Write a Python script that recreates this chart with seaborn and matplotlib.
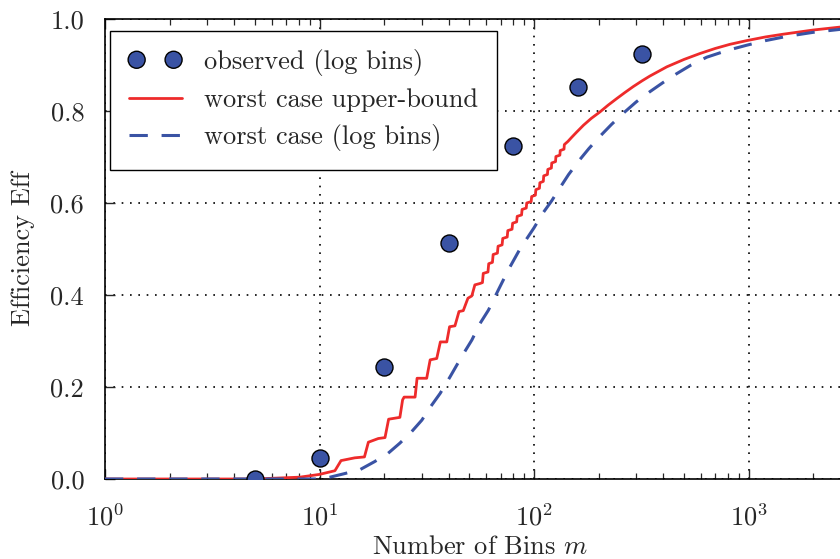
import numpy as np
import pandas as pd
import matplotlib
matplotlib.use("Agg")
import matplotlib.pyplot as plt
import seaborn as sns
from matplotlib.ticker import LogLocator, MultipleLocator, NullFormatter

# observed efficiency (log bins)
obs_m = [5, 10, 20, 40, 80, 160, 320]
obs_eff = [0.0, 0.045, 0.243, 0.512, 0.723, 0.853, 0.925]

# worst case upper-bound (staircase)
ub_m = [1, 5, 8.1, 10, 11.8, 12.6, 14.6, 16.2, 16.9, 18.8, 20.2, 21.0, 23.7, 24.4, 24.8,
        27.9, 28.5, 31.6, 32.8, 35.2, 36.6, 39.2, 40.4, 42.8, 44.7, 46.8, 49.2, 51.3, 53.0,
        56.0, 57.5, 58.0, 61.0, 61.5, 64.0, 64.5, 67.5, 68.0, 71.0, 71.5, 75.0, 75.5, 79.0,
        79.5, 83.0, 83.5, 87.5, 88.0, 92.0, 92.5, 97.0, 97.5, 101.5, 102, 106, 106.5, 110.5,
        111, 115.5, 116, 120.5, 121, 126, 126.5, 132, 132.5, 138, 138.5, 144, 150,
        158, 170, 185, 203, 222, 243, 265, 290, 320, 347, 380, 416, 500, 594, 700, 820,
        981, 1200, 1453, 2000, 3000]
ub_eff = [0.0, 0.0, 0.004, 0.010, 0.018, 0.040, 0.046, 0.048, 0.080, 0.088, 0.090, 0.130,
          0.134, 0.172, 0.178, 0.178, 0.219, 0.219, 0.259, 0.262, 0.298, 0.298, 0.331, 0.333,
          0.364, 0.366, 0.393, 0.398, 0.422, 0.425, 0.427, 0.447, 0.450, 0.468, 0.471, 0.488,
          0.491, 0.506, 0.509, 0.523, 0.526, 0.540, 0.543, 0.556, 0.559, 0.571, 0.574, 0.586,
          0.589, 0.600, 0.603, 0.614, 0.617, 0.629, 0.632, 0.644, 0.647, 0.659, 0.662, 0.673,
          0.676, 0.687, 0.690, 0.701, 0.704, 0.714, 0.717, 0.727, 0.734, 0.743,
          0.754, 0.769, 0.784, 0.798, 0.813, 0.827, 0.840, 0.853, 0.866, 0.876, 0.886, 0.896,
          0.912, 0.925, 0.936, 0.945, 0.953, 0.961, 0.967, 0.976, 0.985]

# worst case (log bins)
wc_m = [1, 10, 11.2, 12.9, 15.4, 18.1, 20.9, 23.7, 26.9, 30.0, 32.7, 36.5, 40.6, 46, 51.3,
        56, 61.3, 68.2, 76, 86, 100, 110, 121, 130, 145, 164, 180, 203, 230, 265, 300, 347,
        400, 462, 540, 639, 800, 981, 1200, 1500, 2000, 3000]
wc_eff = [0.0, 0.0, 0.004, 0.011, 0.020, 0.038, 0.056, 0.078, 0.103, 0.128, 0.155, 0.186,
          0.222, 0.266, 0.302, 0.338, 0.367, 0.411, 0.455, 0.50, 0.546, 0.578, 0.605, 0.628,
          0.662, 0.695, 0.718, 0.745, 0.771, 0.798, 0.820, 0.842, 0.862, 0.881, 0.900, 0.917,
          0.932, 0.943, 0.953, 0.962, 0.971, 0.980]

sns.set_style("ticks")
plt.rcParams.update({
    "font.family": ["cmr10", "DejaVu Serif"],
    "mathtext.fontset": "cm",
    "axes.unicode_minus": False,
    "axes.formatter.use_mathtext": True,
    "font.size": 19,
})

RED = "#ee2b2b"
BLUE = "#3a53a4"
FS = 19

fig = plt.figure(figsize=(8.4, 5.59), dpi=100)
ax = fig.add_axes([0.125, 1 - 479 / 559, 750.75 / 840, 460 / 559])

ub_df = pd.DataFrame({"m": ub_m, "eff": ub_eff})
wc_df = pd.DataFrame({"m": wc_m, "eff": wc_eff})
obs_df = pd.DataFrame({"m": obs_m, "eff": obs_eff})

sns.lineplot(data=ub_df, x="m", y="eff", estimator=None, sort=False, ax=ax,
             color=RED, lw=2.0, label="worst case upper-bound", zorder=3)
sns.lineplot(data=wc_df, x="m", y="eff", estimator=None, sort=False, ax=ax,
             color=BLUE, lw=2.2, linestyle=(0, (6.0, 4.5)), label="worst case (log bins)", zorder=3)
sns.scatterplot(data=obs_df, x="m", y="eff", ax=ax, s=150, color=BLUE,
                edgecolor="black", linewidth=1.0, label="observed (log bins)", zorder=4)

ax.set_xscale("log")
ax.set_xlim(1, 10 ** 3.5)
ax.set_ylim(0, 1.0)
ax.xaxis.set_major_locator(LogLocator(base=10, numticks=10))
ax.xaxis.set_minor_locator(LogLocator(base=10, subs=np.arange(2, 10), numticks=20))
ax.xaxis.set_minor_formatter(NullFormatter())
ax.set_yticks([0.0, 0.2, 0.4, 0.6, 0.8, 1.0])
ax.set_yticklabels(["0.0", "0.2", "0.4", "0.6", "0.8", "1.0"])

ax.grid(True, which="major", color="black", linestyle=(0, (1, 4)), linewidth=1.2)
ax.tick_params(which="both", direction="in", top=True, right=True, labelsize=FS)
ax.tick_params(axis="y", pad=15)
ax.tick_params(axis="x", pad=18)
ax.tick_params(which="major", length=7, width=1.0)
ax.tick_params(which="minor", length=4, width=0.9)
for s in ax.spines.values():
    s.set_linewidth(1.2)
    s.set_color("black")

ax.set_xlabel("Number of Bins $m$", fontsize=FS, labelpad=3)
ax.set_ylabel("Efficiency Eff", fontsize=FS, labelpad=11)

handles, labels = ax.get_legend_handles_labels()
order = [labels.index("observed (log bins)"), labels.index("worst case upper-bound"),
         labels.index("worst case (log bins)")]
leg = ax.legend([handles[i] for i in order], [labels[i] for i in order],
                loc="upper left", bbox_to_anchor=(0.007, 0.974), scatterpoints=2,
                scatteryoffsets=[0.5], fancybox=False, framealpha=1.0, edgecolor="black",
                fontsize=FS, handlelength=2.0, handletextpad=0.85, borderpad=0.7,
                labelspacing=0.45, borderaxespad=0.0, handleheight=0.75)
leg.get_frame().set_linewidth(1.0)

fig.savefig("out.png", dpi=100)
